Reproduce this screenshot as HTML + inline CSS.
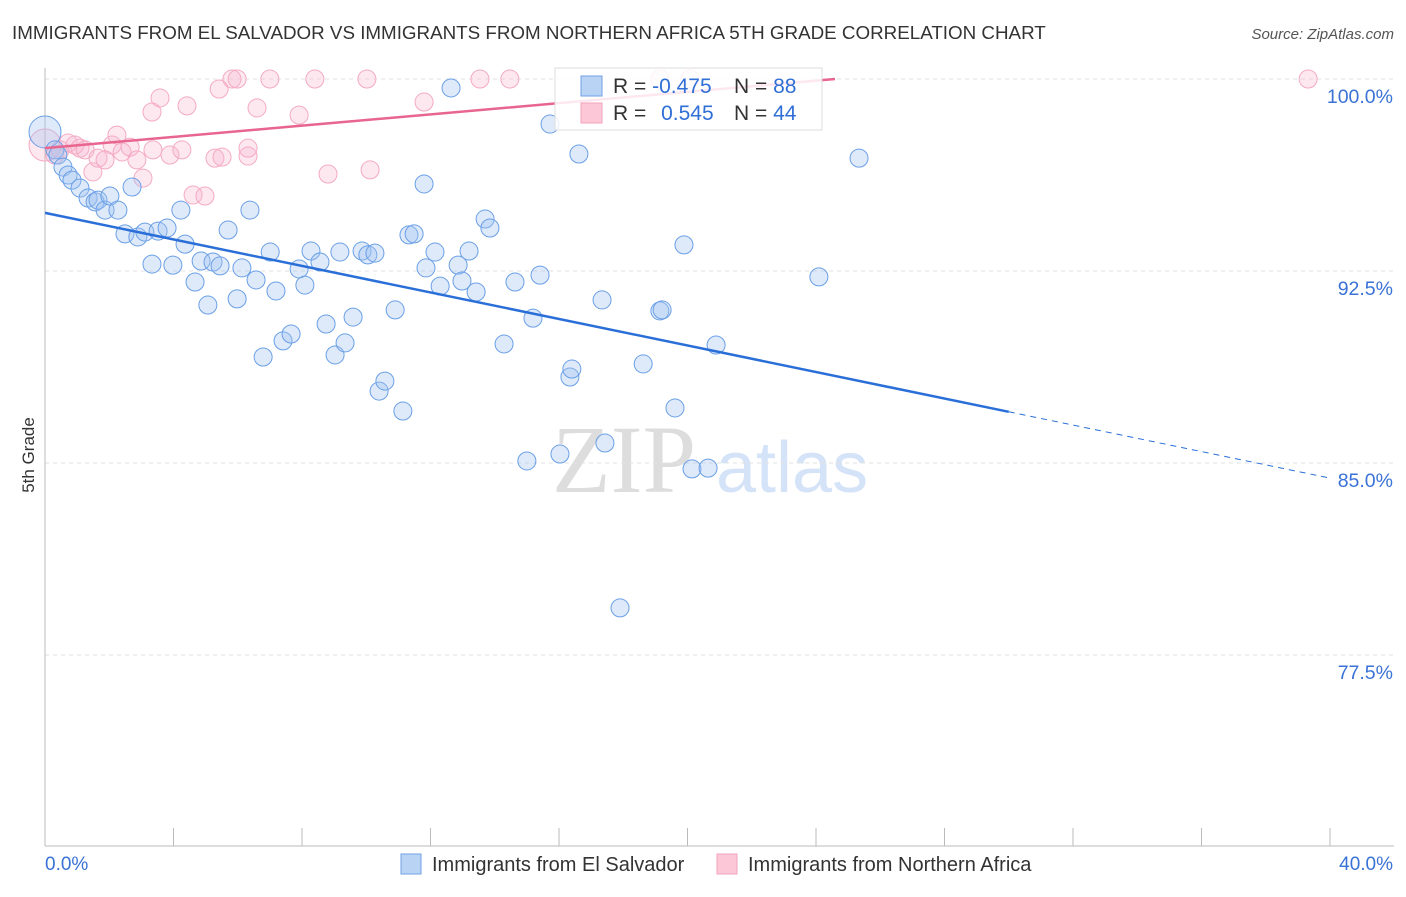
<!DOCTYPE html>
<html><head><meta charset="utf-8"><style>
body{margin:0;background:#fff;font-family:"Liberation Sans",sans-serif}
#c{position:relative;width:1406px;height:892px}
</style></head><body>
<div id="c">
<svg id="s" width="1406" height="892" xmlns="http://www.w3.org/2000/svg">
<text x="12" y="39" font-size="18.8" fill="#333">IMMIGRANTS FROM EL SALVADOR VS IMMIGRANTS FROM NORTHERN AFRICA 5TH GRADE CORRELATION CHART</text>
<text x="1394" y="39" font-size="15" fill="#555" font-style="italic" text-anchor="end">Source: ZipAtlas.com</text>
<text x="34" y="455" font-size="17" fill="#333" text-anchor="middle" transform="rotate(-90 34 455)">5th Grade</text>
<g><text x="552" y="492" font-size="96" fill="#ddd" font-family="Liberation Serif,serif">ZIP</text><text x="716" y="492" font-size="72" fill="#d4e3f7">atlas</text></g>
<g id="grid"></g><g id="axes"></g><g id="pts"></g><g id="lines"></g>
<g>
<rect x="555" y="68" width="267" height="62" fill="#fff" fill-opacity="0.85" stroke="#ddd"/>
<rect x="581" y="76" width="21" height="20" fill="#b9d3f5" stroke="#6fa0e6"/>
<rect x="581" y="103" width="21" height="20" fill="#fcc7d7" stroke="#f2a3bd"/>
<text x="613" y="93" font-size="21" fill="#333">R = <tspan fill="#2f6fd6">-0.475</tspan></text>
<text x="734" y="93" font-size="21" fill="#333">N = <tspan fill="#2f6fd6">88</tspan></text>
<text x="613" y="120" font-size="21" fill="#333">R = <tspan fill="#2f6fd6" dx="9">0.545</tspan></text>
<text x="734" y="120" font-size="21" fill="#333">N = <tspan fill="#2f6fd6">44</tspan></text>
</g>
<g>
<rect x="401" y="854" width="20" height="20" fill="#b9d3f5" stroke="#6fa0e6"/>
<text x="432" y="871" font-size="20" fill="#333">Immigrants from El Salvador</text>
<rect x="717" y="854" width="20" height="20" fill="#fcc7d7" stroke="#f2a3bd"/>
<text x="748" y="871" font-size="20" fill="#333">Immigrants from Northern Africa</text>
</g>
</svg></div>
<script>
const blueX=[0,0.31,0.40,0.56,0.72,0.84,1.09,1.34,1.56,1.65,1.87,2.02,2.27,2.49,2.71,2.89,3.11,3.33,3.52,3.80,3.98,4.23,4.36,4.67,4.86,5.07,5.23,5.45,5.70,5.98,6.13,6.38,6.57,6.79,7.01,7.19,7.41,7.66,7.91,8.09,8.28,8.56,8.75,9.03,9.18,9.34,9.59,9.87,10.05,10.27,10.40,10.58,10.90,11.14,11.33,11.49,11.80,11.86,12.14,12.30,12.64,12.86,12.98,13.20,13.42,13.70,13.85,14.29,14.63,15.00,15.19,15.41,15.72,16.03,16.34,16.40,16.62,17.34,17.43,17.90,18.62,19.14,19.21,19.61,19.89,20.14,20.64,20.89,24.09,25.34];
const blueY=[97.93,97.23,97.03,96.56,96.25,96.05,95.74,95.35,95.20,95.27,94.88,95.43,94.88,93.95,95.78,93.83,94.02,92.77,94.06,94.18,92.73,94.88,93.55,92.07,92.89,91.17,92.85,92.70,94.10,91.41,92.62,94.88,92.15,89.14,93.24,91.72,89.77,90.04,92.58,91.95,93.28,92.85,90.43,89.22,93.24,89.69,90.70,93.28,93.13,93.20,87.81,88.20,90.98,87.03,93.91,93.95,95.90,92.62,93.24,91.91,99.65,92.73,92.11,93.28,91.68,94.53,94.18,89.65,92.07,85.08,90.66,92.34,98.24,85.35,88.36,88.67,97.07,91.37,85.78,79.34,88.87,90.94,90.98,87.15,93.52,84.77,84.80,89.61,92.27,96.91];
const pinkX=[0,0.31,0.47,0.72,0.93,1.09,1.25,1.49,1.65,1.87,2.09,2.24,2.40,2.65,2.86,3.05,3.33,3.36,3.58,3.89,4.26,4.42,4.61,4.98,5.29,5.42,5.51,5.82,5.98,6.32,6.32,6.60,7.00,7.91,8.40,8.81,10.02,10.12,11.80,13.54,14.47,19.14,20.08,39.32];
const pinkY=[97.42,97.03,97.23,97.50,97.42,97.30,97.23,96.37,96.91,96.84,97.42,97.81,97.15,97.34,96.84,96.13,98.71,97.23,99.26,97.03,97.23,98.95,95.47,95.43,96.91,99.61,96.95,100,100,96.99,97.30,98.87,100,98.59,100,96.29,100,96.45,99.10,100,100,100,100,100];
const blueTrend=[94.77,-0.259];
const pinkTrend=[97.3,0.1098];
const yTicks=[100,92.5,85,77.5];
const yTickLabels=["100.0%","92.5%","85.0%","77.5%"];
const NS="http://www.w3.org/2000/svg";
const X=v=>45+v*32.125, Y=v=>79+(100-v)*25.6;
function mk(tag,attrs,parent){const e=document.createElementNS(NS,tag);for(const k in attrs)e.setAttribute(k,attrs[k]);document.getElementById(parent).appendChild(e);return e;}
yTicks.forEach((t,i)=>{
 const l=mk('line',{x1:45,x2:1394,y1:Y(t),y2:Y(t),stroke:'#e2e2e2','stroke-dasharray':'4,4'},'grid');
 
 
 const tx=mk('text',{x:1393,y:Y(t)+24,'font-size':19.5,fill:'#3a72d6','text-anchor':'end'},'axes');
 tx.textContent=yTickLabels[i];
 
 
});
mk('line',{x1:45,x2:45,y1:68,y2:846,stroke:'#bbb'},'axes');
mk('line',{x1:45,x2:1394,y1:846,y2:846,stroke:'#bbb'},'axes');
for(let i=0;i<=10;i++){const t=mk('line',{x1:X(i*4),x2:X(i*4),y1:828,y2:846,stroke:'#bbb'},'axes');
 
 }
let a=mk('text',{x:45,y:870,'font-size':19,fill:'#3a72d6'},'axes');a.textContent='0.0%';


a=mk('text',{x:1393,y:870,'font-size':19,fill:'#3a72d6','text-anchor':'end'},'axes');a.textContent='40.0%';


function dots(xs,ys,fill,stroke,name){xs.forEach((x,i)=>{const c=mk('circle',{cx:X(x),cy:Y(ys[i]),r:i===0?16:9,fill:fill,stroke:stroke,'stroke-width':1},'pts');
 
 });}
dots(pinkX,pinkY,'rgba(248,180,204,0.3)','#f4aac3','point-northern-africa');
dots(blueX,blueY,'rgba(160,196,242,0.35)','#6a9fe6','point-el-salvador');
let ln=mk('line',{x1:X(0),y1:Y(blueTrend[0]),x2:X(30),y2:Y(blueTrend[0]+30*blueTrend[1]),stroke:'#2a6fd8','stroke-width':2.5},'lines');


ln=mk('line',{x1:X(30),y1:Y(blueTrend[0]+30*blueTrend[1]),x2:X(40),y2:Y(blueTrend[0]+40*blueTrend[1]),stroke:'#2a6fd8','stroke-width':1,'stroke-dasharray':'6,5'},'lines');


const pe=(100-pinkTrend[0])/pinkTrend[1];
ln=mk('line',{x1:X(0),y1:Y(pinkTrend[0]),x2:X(pe),y2:Y(100),stroke:'#e8658f','stroke-width':2.5},'lines');


</script>
</body></html>
